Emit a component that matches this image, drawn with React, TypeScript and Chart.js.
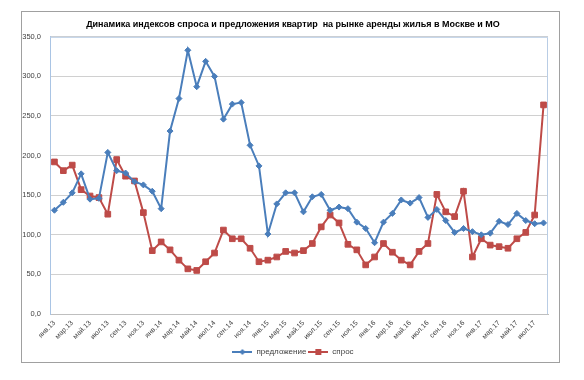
import React, { useEffect, useRef } from 'react';
import { Chart, registerables } from 'chart.js';

Chart.register(...registerables);

const TITLE = 'Динамика индексов спроса и предложения квартир  на рынке аренды жилья в Москве и МО';

const months: string[] = [
  'янв.13', 'фев.13', 'мар.13', 'апр.13', 'май.13', 'июн.13', 'июл.13', 'авг.13', 'сен.13', 'окт.13', 'ноя.13', 'дек.13',
  'янв.14', 'фев.14', 'мар.14', 'апр.14', 'май.14', 'июн.14', 'июл.14', 'авг.14', 'сен.14', 'окт.14', 'ноя.14', 'дек.14',
  'янв.15', 'фев.15', 'мар.15', 'апр.15', 'май.15', 'июн.15', 'июл.15', 'авг.15', 'сен.15', 'окт.15', 'ноя.15', 'дек.15',
  'янв.16', 'фев.16', 'мар.16', 'апр.16', 'май.16', 'июн.16', 'июл.16', 'авг.16', 'сен.16', 'окт.16', 'ноя.16', 'дек.16',
  'янв.17', 'фев.17', 'мар.17', 'апр.17', 'май.17', 'июн.17', 'июл.17', 'авг.17',
];

const supplyLabel = 'предложение';
const supply: number[] = [
  131, 141, 153, 177, 145, 146, 204, 181, 178, 167, 163, 155,
  133, 231, 272, 333, 287, 319, 300, 246, 265, 267, 213, 187,
  101, 139, 153, 153, 129, 148, 151, 131, 135, 133, 116, 108,
  90, 116, 127, 144, 140, 147, 122, 132, 118, 103, 108, 104,
  100, 102, 117, 113, 127, 118, 114, 115,
];

const demandLabel = 'спрос';
const demand: number[] = [
  192, 181, 188, 157, 149, 147, 126, 195, 174, 168, 128, 80,
  91, 81, 68, 57, 55, 66, 77, 106, 95, 95, 83, 66,
  68, 72, 79, 77, 80, 89, 110, 125, 115, 88, 81, 62,
  72, 89, 78, 68, 62, 79, 89, 151, 129, 123, 155, 72,
  95, 87, 85, 83, 95, 103, 125, 264,
];

const yTicks: number[] = [0, 50, 100, 150, 200, 250, 300, 350];

const BLUE = '#4a7ebb';
const RED = '#be4b48';
const FONT = "'Liberation Sans', Arial, sans-serif";

function makeIcon(color: string, shape: 'diamond' | 'square'): HTMLCanvasElement {
  const c = document.createElement('canvas');
  c.width = 20;
  c.height = 8;
  const ctx = c.getContext('2d')!;
  ctx.strokeStyle = color;
  ctx.lineWidth = 2;
  ctx.beginPath();
  ctx.moveTo(0, 4);
  ctx.lineTo(20, 4);
  ctx.stroke();
  ctx.fillStyle = color;
  if (shape === 'diamond') {
    ctx.beginPath();
    ctx.moveTo(10, 1);
    ctx.lineTo(13, 4);
    ctx.lineTo(10, 7);
    ctx.lineTo(7, 4);
    ctx.closePath();
    ctx.fill();
  } else {
    ctx.fillRect(7, 1, 6, 6);
  }
  return c;
}

const plotBorder = {
  id: 'plotBorder',
  beforeDatasetsDraw(chart: any) {
    const { ctx, chartArea } = chart;
    ctx.save();
    ctx.strokeStyle = '#b9cde5';
    ctx.lineWidth = 1;
    ctx.beginPath();
    ctx.moveTo(chartArea.left, chartArea.top + 0.5);
    ctx.lineTo(chartArea.right - 0.5, chartArea.top + 0.5);
    ctx.lineTo(chartArea.right - 0.5, chartArea.bottom);
    ctx.stroke();
    ctx.restore();
  },
};

export default function App() {
  const ref = useRef<HTMLCanvasElement | null>(null);

  useEffect(() => {
    document.body.style.margin = '0';
    const canvas = ref.current!;
    const icons = [makeIcon(BLUE, 'diamond'), makeIcon(RED, 'square')];
    const chart = new Chart(canvas, {
      type: 'line',
      data: {
        labels: months,
        datasets: [
          {
            label: supplyLabel,
            data: supply,
            borderColor: BLUE,
            backgroundColor: BLUE,
            borderWidth: 2,
            pointStyle: 'rectRot',
            pointRadius: 3,
            pointBackgroundColor: BLUE,
            pointBorderColor: BLUE,
            pointBorderWidth: 1,
            tension: 0,
          },
          {
            label: demandLabel,
            data: demand,
            borderColor: RED,
            backgroundColor: RED,
            borderWidth: 2,
            pointStyle: 'rect',
            pointRadius: 4,
            pointBackgroundColor: RED,
            pointBorderColor: RED,
            pointBorderWidth: 1,
            tension: 0,
          },
        ],
      },
      options: {
        animation: false,
        responsive: false,
        devicePixelRatio: 1,
        layout: { padding: { left: 0, right: 0, top: 0, bottom: -4 } },
        scales: {
          x: {
            offset: true,
            grid: { display: false, drawTicks: false },
            border: { color: '#bfbfbf', width: 1 },
            ticks: {
              autoSkip: false,
              maxRotation: 45,
              minRotation: 45,
              padding: 5,
              color: '#404040',
              font: { family: FONT, size: 7 },
              callback: (_v: any, i: number) => (i % 2 === 0 ? months[i] : ''),
            },
            afterFit: (s: any) => {
              s.height = 32;
            },
          },
          y: {
            min: 0,
            max: 350,
            afterBuildTicks: (s: any) => {
              s.ticks = yTicks.map((v) => ({ value: v }));
            },
            grid: { color: '#d0d0d0', lineWidth: 1, drawTicks: false },
            border: { color: '#a9c4e4', width: 1 },
            ticks: {
              padding: 9,
              color: '#404040',
              font: { family: FONT, size: 7.5 },
              callback: (v: any) => Number(v).toFixed(1).replace('.', ','),
            },
            afterFit: (s: any) => {
              s.width = 28;
            },
          },
          yRight: {
            position: 'right',
            display: true,
            min: 0,
            max: 350,
            grid: { display: false, drawTicks: false },
            border: { display: false },
            ticks: { display: false },
            afterFit: (s: any) => {
              s.width = 16;
            },
          },
        },
        plugins: {
          title: {
            display: true,
            text: TITLE,
            color: '#000',
            font: { family: FONT, size: 9, weight: 'bold' },
            padding: { top: 7, bottom: 7 },
          },
          legend: {
            display: true,
            position: 'bottom',
            labels: {
              usePointStyle: true,
              pointStyleWidth: 20,
              padding: 2,
              color: '#404040',
              font: { family: FONT, size: 8 },
              generateLabels: (c: any) => {
                const items = (Chart.defaults.plugins.legend.labels as any).generateLabels(c);
                items.forEach((it: any, i: number) => {
                  it.pointStyle = icons[i];
                });
                return items;
              },
            },
          },
          tooltip: { enabled: false },
        },
      },
      plugins: [plotBorder],
    } as any);
    return () => chart.destroy();
  }, []);

  return (
    <div style={{ position: 'absolute', left: 0, top: 0, width: 584, height: 380 }}>
      <div
        style={{
          position: 'absolute',
          left: 21,
          top: 11,
          width: 537,
          height: 350,
          border: '1px solid #a0a0a0',
          background: '#fff',
        }}
      />
      <canvas
        ref={ref}
        width={542}
        height={350}
        style={{ position: 'absolute', left: 22, top: 12, display: 'block', width: 542, height: 350 }}
      />
    </div>
  );
}
